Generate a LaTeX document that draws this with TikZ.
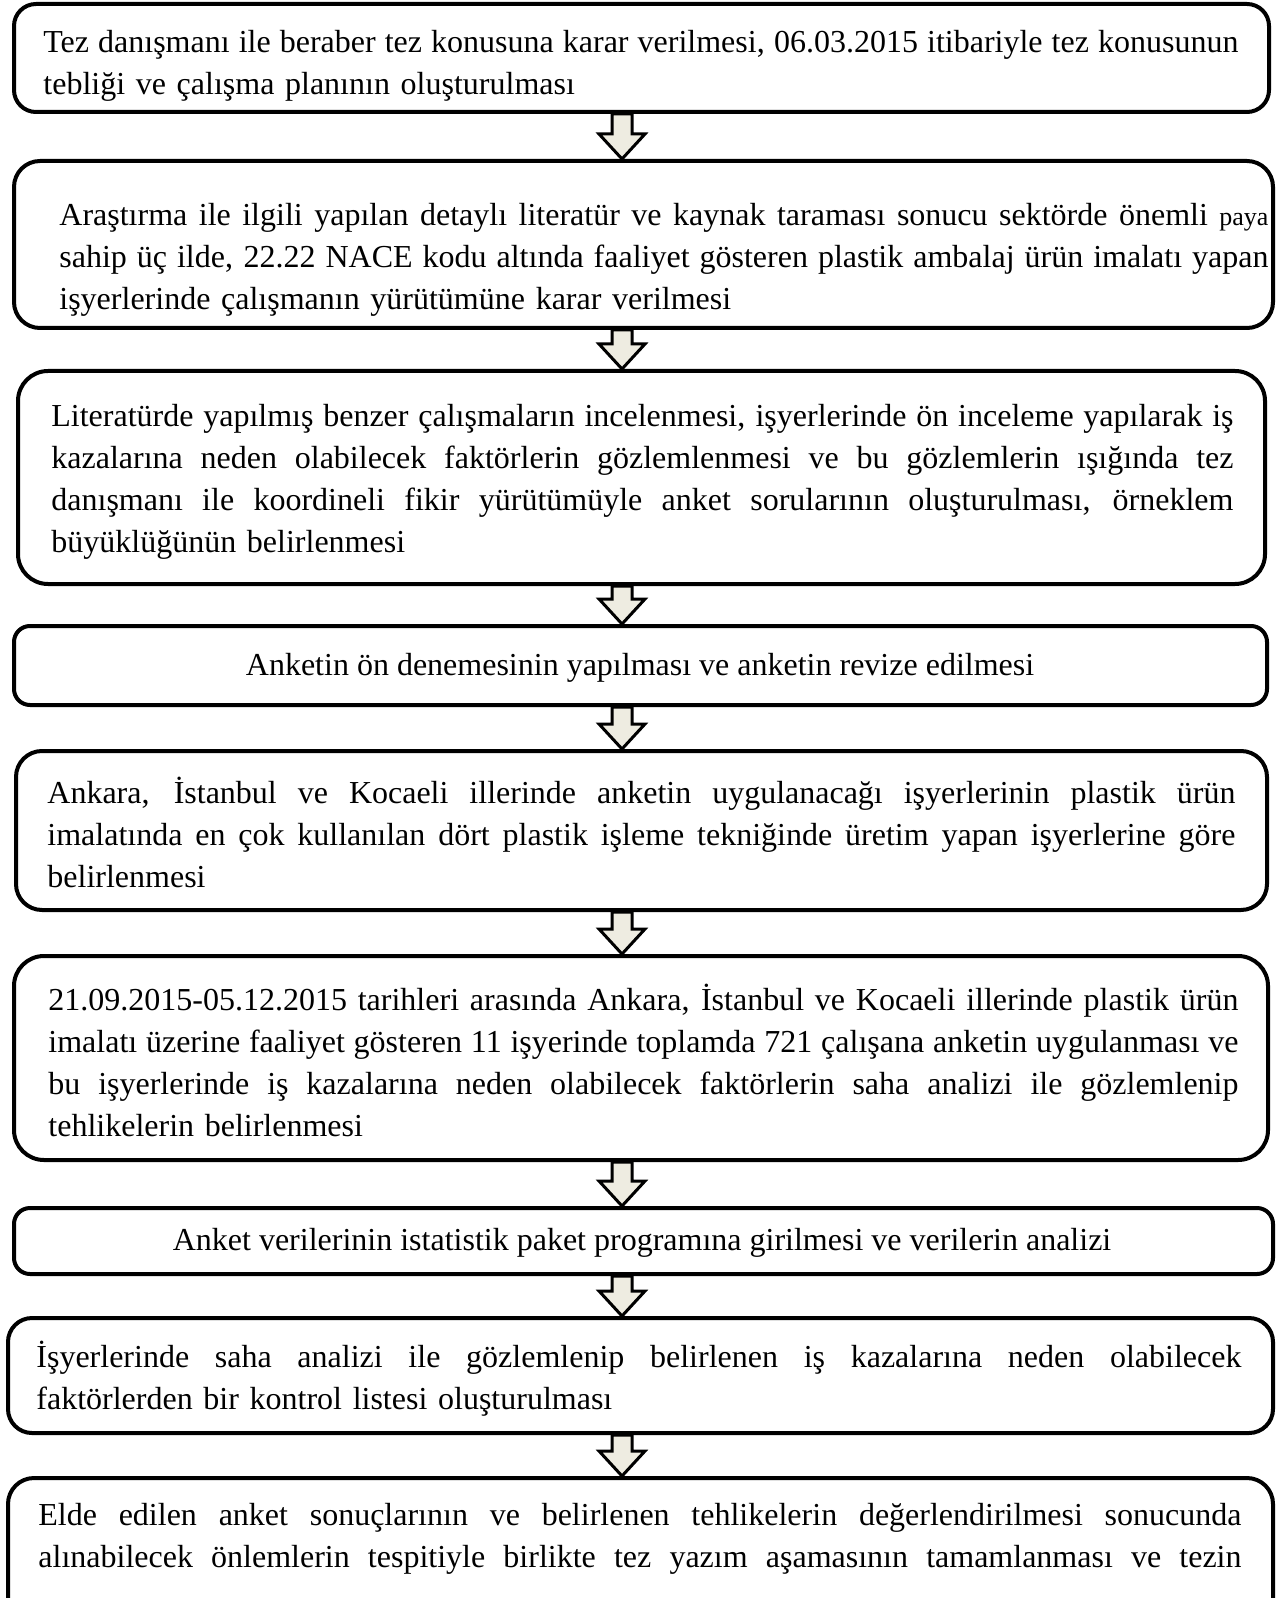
\documentclass[tikz,border=0pt]{standalone}
\usepackage{fontspec}
\setmainfont{Liberation Serif}
\usetikzlibrary{calc,fit}
\definecolor{arrowfill}{HTML}{EEECE1}
\newcommand\jl[1]{\makebox[\hsize][s]{\spaceskip=0pt\xspaceskip=0pt\strut #1}}
\begin{document}
\begin{tikzpicture}[x=0.5pt,y=-0.5pt,
  box/.style={draw=black, line width=2pt, inner sep=0pt, fill=none},
  txt/.style={inner sep=0pt, anchor=north west, align=left, font=\fontsize{16}{21}\selectfont},
  ctxt/.style={inner sep=0pt, anchor=center, font=\fontsize{16}{21}\selectfont},
  blockarrow/.style={draw=black, fill=arrowfill, line width=1.5pt, line join=miter}]
\useasboundingbox (0,0) rectangle (1282,1598);
% boxes
\node[box, rounded corners=11pt, fit={(14,4) (1269,112)}] (b1) {};
\node[box, rounded corners=13pt, fit={(14,161) (1273,328)}] (b2) {};
\node[box, rounded corners=15pt, fit={(18,371) (1265,584)}] (b3) {};
\node[box, rounded corners=8pt, fit={(14,626) (1267,705)}] (b4) {};
\node[box, rounded corners=13pt, fit={(16,751) (1267,910)}] (b5) {};
\node[box, rounded corners=15pt, fit={(14,956) (1268,1160)}] (b6) {};
\node[box, rounded corners=8pt, fit={(14,1208) (1273,1274)}] (b7) {};
\node[box, rounded corners=12pt, fit={(8,1318) (1273,1433)}] (b8) {};
\node[box, rounded corners=13pt, fit={(8,1478) (1273,1640)}] (b9) {};
% texts
\node[txt, text width=597.5pt] (t1) at (43,22.5) {\jl{Tez danışmanı ile beraber tez konusuna karar verilmesi, 06.03.2015 itibariyle tez konusunun}\\tebliği ve çalışma planının oluşturulması};
\node[txt, text width=604.5pt] (t2) at (59,195.5) {\jl{Araştırma ile ilgili yapılan detaylı literatür ve kaynak taraması sonucu sektörde önemli {\fontsize{13}{21}\selectfont paya}}\\\jl{sahip üç ilde, 22.22 NACE kodu altında faaliyet gösteren plastik ambalaj ürün imalatı yapan}\\işyerlerinde çalışmanın yürütümüne karar verilmesi};
\node[txt, text width=591pt] (t3) at (51,396.5) {\jl{Literatürde yapılmış benzer çalışmaların incelenmesi, işyerlerinde ön inceleme yapılarak iş}\\\jl{kazalarına neden olabilecek faktörlerin gözlemlenmesi ve bu gözlemlerin ışığında tez}\\\jl{danışmanı ile koordineli fikir yürütümüyle anket sorularının oluşturulması, örneklem}\\büyüklüğünün belirlenmesi};
\node[ctxt] (t4) at (640,667) {\strut Anketin ön denemesinin yapılması ve anketin revize edilmesi};
\node[txt, text width=594pt] (t5) at (47,773.5) {\jl{Ankara, İstanbul ve Kocaeli illerinde anketin uygulanacağı işyerlerinin plastik ürün}\\\jl{imalatında en çok kullanılan dört plastik işleme tekniğinde üretim yapan işyerlerine göre}\\belirlenmesi};
\node[txt, text width=595pt] (t6) at (48,980.5) {\jl{21.09.2015-05.12.2015 tarihleri arasında Ankara, İstanbul ve Kocaeli illerinde plastik ürün}\\\jl{imalatı üzerine faaliyet gösteren 11 işyerinde toplamda 721 çalışana anketin uygulanması ve}\\\jl{bu işyerlerinde iş kazalarına neden olabilecek faktörlerin saha analizi ile gözlemlenip}\\tehlikelerin belirlenmesi};
\node[ctxt] (t7) at (642,1242) {\strut Anket verilerinin istatistik paket programına girilmesi ve verilerin analizi};
\node[txt, text width=602.5pt] (t8) at (36,1337.5) {\jl{İşyerlerinde saha analizi ile gözlemlenip belirlenen iş kazalarına neden olabilecek}\\faktörlerden bir kontrol listesi oluşturulması};
\node[txt, text width=601.5pt] (t9) at (38,1495.5) {\jl{Elde edilen anket sonuçlarının ve belirlenen tehlikelerin değerlendirilmesi sonucunda}\\\jl{alınabilecek önlemlerin tespitiyle birlikte tez yazım aşamasının tamamlanması ve tezin}};
% arrows
\coordinate (ax) at (622,0);
\foreach \a/\b in {b1/b2,b2/b3,b3/b4,b4/b5,b5/b6,b6/b7,b7/b8,b8/b9}{
  \draw[blockarrow] let \p1=(\a.south -| ax), \p2=(\b.north -| ax) in
    (\x1-5pt,\y1) -- (\x1+5pt,\y1) -- (\x1+5pt,\y2+12.5pt) -- (\x1+11.5pt,\y2+12.5pt)
    -- (\x1,\y2) -- (\x1-11.5pt,\y2+12.5pt) -- (\x1-5pt,\y2+12.5pt) -- cycle;
}
\end{tikzpicture}
\end{document}
